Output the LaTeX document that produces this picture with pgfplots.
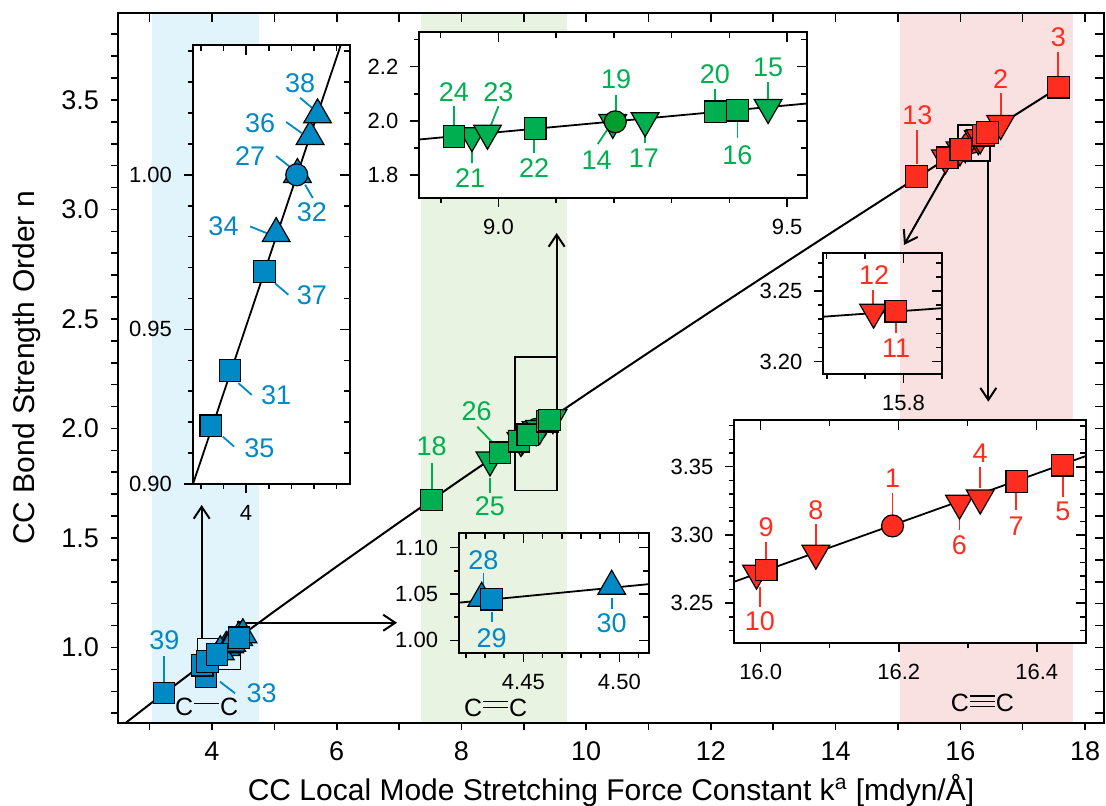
\documentclass[border=0pt]{standalone}
\usepackage{fontspec}
\setmainfont{Liberation Sans}
\usepackage{pgfplots}
\pgfplotsset{compat=1.18}
\usepackage{pgfplotstable}
\usetikzlibrary{arrows.meta}

\definecolor{cblue}{RGB}{0,137,196}
\definecolor{cgreen}{RGB}{0,176,80}
\definecolor{cgreenD}{RGB}{0,158,45}
\definecolor{cred}{RGB}{255,45,32}
\definecolor{bandB}{RGB}{225,243,251}
\definecolor{bandG}{RGB}{232,243,225}
\definecolor{bandR}{RGB}{249,225,225}

\newcommand\fs[1]{\fontsize{#1}{#1}\selectfont}
\newcommand\bondrule[1]{\rlap{\rule[#1em]{1em}{0.055em}}}
\newcommand\sbond{\kern0.04em\bondrule{0.45}\kern1.04em}
\newcommand\dbond{\kern0.04em\bondrule{0.32}\bondrule{0.56}\kern1.04em}
\newcommand\tbond{\kern0.04em\bondrule{0.18}\bondrule{0.39}\bondrule{0.60}\kern1.04em}

% k [mdyn/A]  n
\pgfplotstableread{
k n
3.230 0.792
3.904 0.867
3.844 0.9188
3.929 0.9367
4.081 0.9687
4.4335 1.0443
}\bluesq
\pgfplotstableread{
k n
4.4283 1.0453
4.496 1.0583
4.227 1.0001
4.133 0.981
4.283 1.0124
4.316 1.0194
}\bluetri
\pgfplotstableread{
k n
4.224 1.000
}\bluecirc
\pgfplotstableread{
k n
7.523 1.6735
8.618 1.889
8.923 1.942
9.0637 1.971
9.376 2.033
9.414 2.039
}\greensq
\pgfplotstableread{
k n
8.458 1.856
8.954 1.945
8.981 1.954
9.198 1.994
9.254 2.000
9.467 2.049
}\greentri
\pgfplotstableread{
k n
9.2024 1.9963
}\greencirc
\pgfplotstableread{
k n
15.30 3.150
15.790 3.2357
16.008 3.2744
16.371 3.339
16.437 3.351
17.571 3.558
}\redsq
\pgfplotstableread{
k n
15.761 3.235
15.994 3.272
16.080 3.2866
16.288 3.3232
16.318 3.327
16.647 3.392
}\redtri
\pgfplotstableread{
k n
16.191 3.3066
}\redcirc

\pgfplotsset{
  msq/.style={only marks, mark=square*, mark size=5.4pt, mark options={fill=#1, draw=black, line width=0.6pt}},
  mtri/.style={only marks, mark=triangle*, mark size=8pt, mark options={fill=#1, draw=black, line width=0.6pt}},
  mdtri/.style={only marks, mark=triangle*, mark size=8pt, mark options={fill=#1, draw=black, line width=0.6pt, rotate=180}},
  mcirc/.style={only marks, mark=*, mark size=5.5pt, mark options={fill=#1, draw=black, line width=0.6pt}},
  base/.style={scale only axis, anchor=south west, axis line style={line width=0.9pt},
    tick style={black, line width=0.8pt}, major tick length=4.5pt, minor tick length=2.5pt,
    tick label style={font=\fs{11}}, yticklabel style={xshift=-2.5pt}, xticklabel style={yshift=-2.5pt}},
  outer/.style={xtick pos=left, ytick pos=left, tick align=outside},
  inner/.style={xtick pos=right, ytick pos=right, tick align=inside,
    xticklabels={,,,,,,,,,,,,}, yticklabels={,,,,,,,,,,,,}},
  mainax/.style={base, at={(0,0)}, width=493pt, height=355pt,
    xmin=2.493, xmax=18.304, ymin=0.6553, ymax=3.897,
    xtick={4,6,8,10,12,14,16,18}, xticklabels={4,6,8,10,12,14,16,18},
    minor xtick={3,5,7,9,11,13,15,17},
    ytick={1,1.5,2,2.5,3,3.5}, yticklabels={1.0,1.5,2.0,2.5,3.0,3.5},
    minor ytick={0.7,0.8,0.9,1.1,1.2,1.3,1.4,1.6,1.7,1.8,1.9,2.1,2.2,2.3,2.4,2.6,2.7,2.8,2.9,3.1,3.2,3.3,3.4,3.6,3.7,3.8},
    major tick length=3.5pt, minor tick length=3.5pt,
    tick label style={font=\fs{13.5}}, axis line style={line width=1pt}},
  ccax/.style={base, at={(37.5pt,119.5pt)}, width=78.5pt, height=219.5pt,
    xmin=3.765, xmax=4.4597, ymin=0.90, ymax=1.042,
    xtick={4}, xticklabels={4}, minor xtick={3.8,3.9,4.1,4.2,4.3,4.4},
    ytick={0.90,0.95,1.00}, yticklabels={0.90,0.95,1.00},
    minor ytick={0.91,0.92,0.93,0.94,0.96,0.97,0.98,0.99,1.01,1.02,1.03,1.04}},
  grax/.style={base, at={(150.65pt,262.65pt)}, width=194pt, height=82.7pt,
    xmin=8.863, xmax=9.535, ymin=1.716, ymax=2.327,
    xtick={9.0,9.5}, xticklabels={9.0,9.5}, minor xtick={8.9,9.1,9.2,9.3,9.4},
    ytick={1.8,2.0,2.2}, yticklabels={1.8,2.0,2.2}, minor ytick={1.9,2.1,2.3}},
  rsax/.style={base, at={(352.65pt,174.5pt)}, width=59.2pt, height=60.35pt,
    xmin=15.6956, xmax=15.85, ymin=3.1913, ymax=3.2767,
    xtick={15.8}, xticklabels={15.8}, minor xtick={15.70,15.75,15.85},
    ytick={3.20,3.25}, yticklabels={3.20,3.25}, minor ytick={3.21,3.22,3.23,3.24,3.26,3.27}},
  rbax/.style={base, at={(308.15pt,39.85pt)}, width=175.7pt, height=111.65pt,
    xmin=15.962, xmax=16.471, ymin=3.2207, ymax=3.3842,
    xtick={16.0,16.2,16.4}, xticklabels={16.0,16.2,16.4}, minor xtick={16.1,16.3},
    ytick={3.25,3.30,3.35}, yticklabels={3.25,3.30,3.35},
    minor ytick={3.23,3.24,3.26,3.27,3.28,3.29,3.31,3.32,3.33,3.34,3.36,3.37,3.38}},
  bsax/.style={base, at={(170.5pt,34.85pt)}, width=95.15pt, height=60pt,
    xmin=4.4165, xmax=4.5156, ymin=0.986, ymax=1.1155,
    xtick={4.45,4.50}, xticklabels={4.45,4.50}, minor xtick={4.42,4.43,4.44,4.46,4.47,4.48,4.49,4.51},
    ytick={1.00,1.05,1.10}, yticklabels={1.00,1.05,1.10}, minor ytick={1.025,1.075}},
}
\tikzset{lb/.style={font=\fs{13.5}, inner sep=0pt}, ld/.style={line width=0.9pt},
  arr/.style={line width=1pt, -{Straight Barb[length=6pt, width=8pt]}}}

\newcommand\lab[4]{\node[lb, text=#1] at (#2,#3) {#4};}
\newcommand\ldr[5]{\draw[ld, #1] (#2,#3) -- (#4,#5);}
\newcommand\circmarks{%
  \addplot[mcirc=cblue] table {\bluecirc};
  \addplot[mcirc=cgreenD] table {\greencirc};
  \addplot[mcirc=cred] table {\redcirc};
}
\newcommand\othermarks{%
  \addplot[mtri=cblue] table {\bluetri};
  \addplot[mdtri=cgreen] table {\greentri};
  \addplot[mdtri=cred] table {\redtri};
  \addplot[msq=cblue] table {\bluesq};
  \addplot[msq=cgreen] table {\greensq};
  \addplot[msq=cred] table {\redsq};
}
\newcommand\allmarks{\othermarks\circmarks}

\begin{document}
\begin{tikzpicture}
% ---- main axis
\begin{axis}[mainax, outer, axis on top,
  xlabel={CC Local Mode Stretching Force Constant k\textsuperscript{a} [mdyn/Å]},
  ylabel={CC Bond Strength Order n},
  every axis x label/.style={at={(axis description cs:0.5,0)}, yshift=-38.5pt, anchor=base, font=\fs{15}},
  every axis y label/.style={at={(axis description cs:0,0.5)}, xshift=-41.5pt, rotate=90, anchor=base, font=\fs{15}}]
  \fill[bandB] (3.043,0.6553) rectangle (4.749,3.897);
  \fill[bandG] (7.347,0.6553) rectangle (9.688,3.897);
  \fill[bandR] (15.033,0.6553) rectangle (17.812,3.897);
  \addplot[black, line width=1pt, mark=none] coordinates {
    (2.61,0.6543) (3,0.7404) (4,0.9558) (5,1.1651) (6,1.3699) (7,1.5708) (8,1.7684)
    (9,1.9633) (10,2.1558) (11,2.3463) (12,2.5347) (13,2.7213) (14,2.9065)
    (15,3.0898) (16,3.2720) (17,3.4529) (17.54,3.5503)};
  \ldr{cblue}{3.235}{0.961}{3.235}{0.837}
  \ldr{cblue}{4.128}{0.844}{4.369}{0.791}
  \ldr{cgreen}{7.523}{1.844}{7.523}{1.719}
  \ldr{cgreen}{8.254}{2.008}{8.485}{1.940}
  \ldr{cgreen}{8.458}{1.704}{8.458}{1.773}
  \ldr{cred}{15.30}{3.361}{15.30}{3.209}
  \ldr{cred}{16.647}{3.531}{16.647}{3.429}
  \ldr{cred}{17.571}{3.718}{17.571}{3.604}
  \circmarks
  \othermarks
  \draw[line width=0.8pt] (3.765,0.900) rectangle (4.46,1.042);
  \draw[line width=0.8pt] (4.4165,0.986) rectangle (4.5156,1.1155);
  \draw[line width=0.8pt] (8.863,1.716) rectangle (9.535,2.327);
  \draw[line width=0.8pt] (15.962,3.2207) rectangle (16.471,3.3842);
  \draw[line width=0.8pt] (15.6956,3.1913) rectangle (15.85,3.2767);
  \draw[arr] (3.835,1.0415) -- (3.835,1.651);
  \draw[arr] (4.502,1.113) -- (6.967,1.113);
  \draw[arr] (9.527,2.3265) -- (9.527,2.8927);
  \draw[arr] (15.781,3.1804) -- (15.097,2.8379);
  \draw[arr] (16.449,3.2183) -- (16.449,2.1224);
  \lab{cblue}{3.235}{1.034}{39}
  \lab{cblue}{4.797}{0.791}{33}
  \lab{cgreen}{7.523}{1.917}{18}
  \lab{cgreen}{8.245}{2.077}{26}
  \lab{cgreen}{8.458}{1.646}{25}
  \lab{cred}{15.31}{3.429}{13}
  \lab{cred}{16.647}{3.597}{2}
  \lab{cred}{17.571}{3.787}{3}
  \node[font=\fs{12.5}] at (3.915,0.7277) {C\sbond C};
  \node[font=\fs{12.5}] at (8.549,0.7263) {C\dbond C};
  \node[font=\fs{12.5}] at (16.355,0.7454) {C\tbond C};
\end{axis}
\begin{axis}[mainax, inner, major tick length=4.5pt, minor tick length=4.5pt]
\end{axis}
% ---- C-C inset
\begin{axis}[ccax, outer, axis background/.style={fill=white}]
  \addplot[black, line width=0.9pt, mark=none] coordinates {(3.70,0.8859) (4.50,1.0596)};
  \ldr{cblue}{4.239}{1.0249}{4.291}{1.0217}
  \ldr{cblue}{4.177}{1.0171}{4.246}{1.0135}
  \ldr{cblue}{4.133}{1.0061}{4.195}{1.0025}
  \ldr{cblue}{4.261}{0.9968}{4.295}{0.9925}
  \ldr{cblue}{4.018}{0.9833}{4.099}{0.9809}
  \ldr{cblue}{4.128}{0.9649}{4.187}{0.9612}
  \ldr{cblue}{3.966}{0.9326}{4.025}{0.9288}
  \ldr{cblue}{3.897}{0.9153}{3.947}{0.9121}
  \allmarks
  \lab{cblue}{4.239}{1.0297}{38}
  \lab{cblue}{4.062}{1.0167}{36}
  \lab{cblue}{4.018}{1.0061}{27}
  \lab{cblue}{4.291}{0.9878}{32}
  \lab{cblue}{3.900}{0.9833}{34}
  \lab{cblue}{4.291}{0.9612}{37}
  \lab{cblue}{4.133}{0.9288}{31}
  \lab{cblue}{4.059}{0.9116}{35}
\end{axis}
\begin{axis}[ccax, inner, major tick length=5pt, minor tick length=3pt]
\end{axis}
% ---- C=C inset
\begin{axis}[grax, outer, axis background/.style={fill=white}]
  \addplot[black, line width=0.9pt, mark=none] coordinates {(8.80,1.9185) (9.60,2.0769)};
  \ldr{cgreen}{8.923}{2.054}{8.923}{1.978}
  \ldr{cgreen}{8.954}{1.843}{8.954}{1.904}
  \ldr{cgreen}{9.000}{2.054}{8.987}{1.984}
  \ldr{cgreen}{9.062}{1.880}{9.062}{1.929}
  \ldr{cgreen}{9.204}{2.095}{9.204}{2.039}
  \ldr{cgreen}{9.172}{1.914}{9.190}{1.972}
  \ldr{cgreen}{9.254}{1.917}{9.254}{1.959}
  \ldr{cgreen}{9.375}{2.116}{9.375}{2.070}
  \ldr{cgreen}{9.414}{1.935}{9.414}{1.996}
  \ldr{cgreen}{9.467}{2.144}{9.467}{2.076}
  \allmarks
  \lab{cgreen}{8.923}{2.107}{24}
  \lab{cgreen}{8.951}{1.787}{21}
  \lab{cgreen}{9.000}{2.107}{23}
  \lab{cgreen}{9.062}{1.824}{22}
  \lab{cgreen}{9.204}{2.153}{19}
  \lab{cgreen}{9.170}{1.855}{14}
  \lab{cgreen}{9.252}{1.860}{17}
  \lab{cgreen}{9.375}{2.172}{20}
  \lab{cgreen}{9.414}{1.873}{16}
  \lab{cgreen}{9.467}{2.197}{15}
\end{axis}
\begin{axis}[grax, inner, major tick length=5pt, minor tick length=3pt]
\end{axis}
% ---- small C#C inset
\begin{axis}[rsax, outer]
  \addplot[black, line width=0.9pt, mark=none] coordinates {(15.68,3.2312) (15.87,3.2386)};
  \ldr{cred}{15.760}{3.2507}{15.760}{3.2401}
  \ldr{cred}{15.790}{3.2201}{15.790}{3.2272}
  \allmarks
  \lab{cred}{15.7617}{3.2613}{12}
  \lab{cred}{15.7905}{3.2095}{11}
\end{axis}
\begin{axis}[rsax, inner, major tick length=5pt, minor tick length=3pt]
\end{axis}
% ---- large C#C inset
\begin{axis}[rbax, outer, axis background/.style={fill=white}]
  \addplot[black, line width=0.9pt, mark=none] coordinates {(15.90,3.2546) (16.50,3.363)};
  \ldr{cred}{16.008}{3.295}{16.008}{3.282}
  \ldr{cred}{15.999}{3.2475}{15.999}{3.262}
  \ldr{cred}{16.080}{3.308}{16.080}{3.293}
  \ldr{cred}{16.191}{3.3305}{16.191}{3.3146}
  \ldr{cred}{16.288}{3.3037}{16.288}{3.3159}
  \ldr{cred}{16.318}{3.350}{16.318}{3.3342}
  \ldr{cred}{16.370}{3.3184}{16.370}{3.3317}
  \ldr{cred}{16.4377}{3.328}{16.4377}{3.3428}
  \allmarks
  \lab{cred}{16.008}{3.306}{9}
  \lab{cred}{15.999}{3.2365}{10}
  \lab{cred}{16.080}{3.318}{8}
  \lab{cred}{16.191}{3.3415}{1}
  \lab{cred}{16.288}{3.2927}{6}
  \lab{cred}{16.318}{3.3598}{4}
  \lab{cred}{16.370}{3.3066}{7}
  \lab{cred}{16.4377}{3.317}{5}
\end{axis}
\begin{axis}[rbax, inner, major tick length=5pt, minor tick length=3pt]
\end{axis}
% ---- small C-C inset near 4.45
\begin{axis}[bsax, outer]
  \addplot[black, line width=0.9pt, mark=none] coordinates {(4.40,1.0373) (4.53,1.0636)};
  \ldr{cblue}{4.4292}{1.0723}{4.4292}{1.0597}
  \ldr{cblue}{4.4335}{1.0202}{4.4335}{1.031}
  \ldr{cblue}{4.496}{1.0335}{4.496}{1.0454}
  \allmarks
  \lab{cblue}{4.4292}{1.0866}{28}
  \lab{cblue}{4.4335}{1.0024}{29}
  \lab{cblue}{4.496}{1.0185}{30}
\end{axis}
\begin{axis}[bsax, inner, major tick length=5pt, minor tick length=3pt]
\end{axis}
\pgfresetboundingbox
\path[use as bounding box] (-59pt,-41.5pt) rectangle (494pt,361.5pt);
\end{tikzpicture}
\end{document}
